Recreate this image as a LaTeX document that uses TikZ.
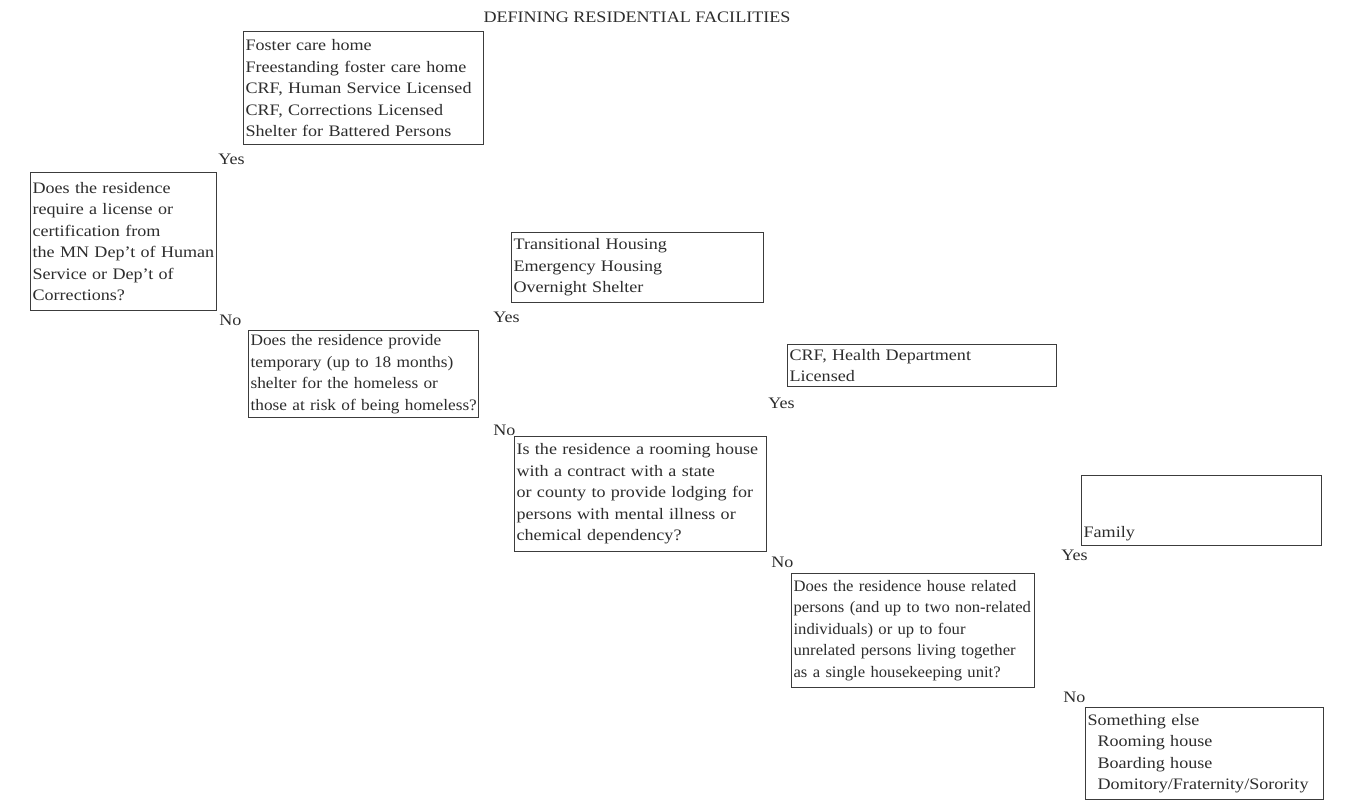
\documentclass[tikz,border=0pt]{standalone}
\usepackage{fontspec}
\setmainfont{Liberation Serif}[FakeStretch=1.13]
\newfontfamily\tightfamily{Liberation Serif}[FakeStretch=1.08]
\newfontfamily\narrowfamily{Liberation Serif}[FakeStretch=1.04]
\definecolor{scanink}{RGB}{45, 45, 45}
\definecolor{scanline}{RGB}{60, 60, 60}
\newcommand{\boxfont}{\fontsize{8pt}{10.75pt}\selectfont}
\tikzset{
  facbox/.style={draw=scanline, line width=0.6pt, anchor=north west, align=left,
                 inner xsep=1pt, inner ysep=1.5pt, text=scanink, font=\boxfont,
                 execute at begin node={\hyphenpenalty=10000\hbadness=10000\hfuzz=20pt}},
  answer/.style={anchor=base west, inner sep=0pt, text=scanink, font=\boxfont}
}

\begin{document}
\begin{tikzpicture}[x=0.5pt, y=-0.5pt]
            % Frame to fix the page size:
            \fill[white] (0, 0) rectangle (1346, 803);
            \useasboundingbox (0, 0) rectangle (1346, 803);
            % Title
            \node[anchor=base, inner sep=0pt, text=scanink, font=\boxfont] (title) at (637, 22) {DEFINING RESIDENTIAL FACILITIES};
            % Question 1: licensed
            \node[facbox, text width=91pt,  minimum height=69pt]   (lic)      at ( 30, 172) {Does the residence\\require a license or\\certification from\\\mbox{the MN Dep't of Human}\\Service or Dep't of\\Corrections?};
            \node[facbox, text width=118pt, minimum height=56.5pt] (licyes)   at (243,  31) {Foster care home\\Freestanding foster care home\\CRF, Human Service Licensed\\CRF, Corrections Licensed\\Shelter for Battered Persons};
            \node[answer] (licY) at (218, 164) {Yes};
            \node[answer] (licN) at (219, 325) {No};
            % Question 2: temporary shelter
            \node[facbox, font=\boxfont\tightfamily, text width=113pt, minimum height=43.5pt] (tmp) at (248, 330) {Does the residence provide\\temporary (up to 18 months)\\shelter for the homeless or\\\mbox{those at risk of being homeless?}};
            \node[facbox, text width=124pt, minimum height=35pt]   (tmpyes)   at (511, 232) {Transitional Housing\\Emergency Housing\\Overnight Shelter};
            \node[answer] (tmpY) at (493, 322) {Yes};
            \node[answer] (tmpN) at (493, 435) {No};
            % Question 3: rooming house with contract
            \node[facbox, text width=124pt, minimum height=57.5pt] (room)     at (514, 436) {\mbox{Is the residence a rooming house}\\with a contract with a state\\\mbox{or county to provide lodging for}\\persons with mental illness or\\chemical dependency?};
            \node[facbox, text width=132.5pt, minimum height=21pt] (roomyes)  at (787, 344) {CRF, Health Department\\Licensed};
            \node[answer] (roomY) at (768, 408) {Yes};
            \node[answer] (roomN) at (771, 567) {No};
            % Question 4: housekeeping unit
            \node[facbox, font=\boxfont\narrowfamily, text width=119.5pt, minimum height=57pt] (unit) at (791, 573) {\mbox{Does the residence house related}\\\mbox{persons (and up to two non-related}\\individuals) or up to four\\\mbox{unrelated persons living together}\\\mbox{as a single housekeeping unit?}};
            \node[facbox, text width=118pt, text height=29.5pt, text depth=2.5pt] (unityes) at (1081, 475) {Family};
            \node[facbox, text width=117pt, minimum height=46pt]   (unitno)   at (1085, 707) {Something else\\\hspace*{5pt}Rooming house\\\hspace*{5pt}Boarding house\\\hspace*{5pt}Domitory/Fraternity/Sorority};
            \node[answer] (unitY) at (1061, 560) {Yes};
            \node[answer] (unitN) at (1063, 702) {No};
        \end{tikzpicture}
\end{document}
